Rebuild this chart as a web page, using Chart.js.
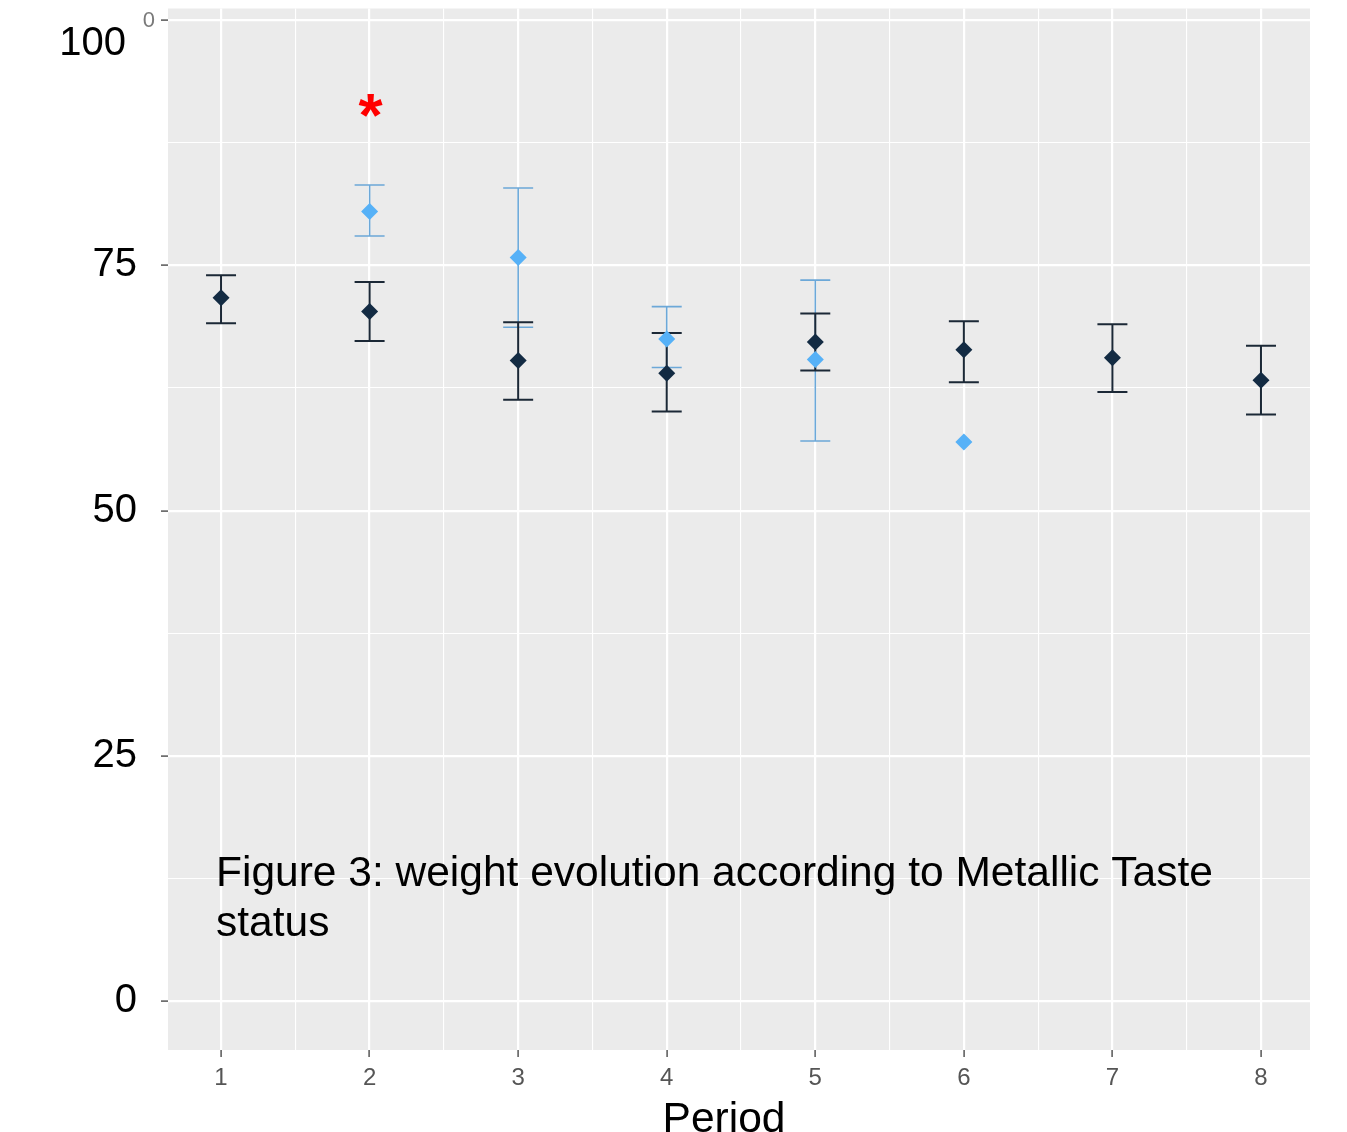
<!DOCTYPE html>
<html>
<head>
<meta charset="utf-8">
<script src="https://cdn.jsdelivr.net/npm/chart.js@4.4.1/dist/chart.umd.min.js"></script>
<style>
  html, body { margin: 0; padding: 0; background: #fff; }
</style>
</head>
<body>
<canvas id="weightChart" width="1347" height="1132"></canvas>
<script>
// weight per period, two groups (no metallic taste / metallic taste)
const periods = [1, 2, 3, 4, 5, 6, 7, 8];
const noTasteMean = [71.7, 70.3, 65.3, 64.0, 67.2, 66.4, 65.6, 63.3];
const noTasteLow  = [69.1, 67.3, 61.3, 60.1, 64.3, 63.1, 62.1, 59.8];
const noTasteHigh = [74.0, 73.3, 69.2, 68.1, 70.1, 69.3, 69.0, 66.8];

const tastePeriods = [2, 3, 4, 5, 6];
const tasteMean = [80.5, 75.8, 67.5, 65.4, 57.0];
const tasteLow  = [78.0, 68.7, 64.6, 57.1, null];
const tasteHigh = [83.2, 82.9, 70.8, 73.5, null];

const starPeriods = [2];
const starValues = [90.9];

const yTickValues = [0, 25, 50, 75, 100];
const caption = ['Figure 3: weight evolution according to Metallic Taste', 'status'];
const xTitle = 'Period';

const FONT = '"Liberation Sans", Arial, Helvetica, sans-serif';
const DARK = '#132B43';
const LIGHT = '#56B1F7';

const series = [
    { xs: tastePeriods, mean: tasteMean, lo: tasteLow, hi: tasteHigh, color: LIGHT, bar: '#6CA8D8', width: 1.6 },
    { xs: periods, mean: noTasteMean, lo: noTasteLow, hi: noTasteHigh, color: DARK, bar: '#1B2836', width: 2 },
];

// grey ggplot-like panel
const panelBg = {
    id: 'panelBg',
    beforeDraw(chart) {
        const { ctx, chartArea: a } = chart;
        ctx.save();
        ctx.fillStyle = '#EBEBEB';
        ctx.fillRect(a.left, a.top, a.right - a.left, a.bottom - a.top);
        ctx.restore();
    }
};

// error bars with caps
const errorBars = {
    id: 'errorBars',
    beforeDatasetsDraw(chart) {
        const { ctx } = chart;
        const xs = chart.scales.x, ys = chart.scales.y;
        ctx.save();
        series.forEach(s => {
            ctx.strokeStyle = s.bar;
            ctx.lineWidth = s.width;
            s.xs.forEach((p, i) => {
                if (s.lo[i] == null) return;
                const x = xs.getPixelForValue(p);
                const yl = ys.getPixelForValue(s.lo[i]);
                const yh = ys.getPixelForValue(s.hi[i]);
                ctx.beginPath();
                ctx.moveTo(x, yh); ctx.lineTo(x, yl);
                ctx.moveTo(x - 15, yh); ctx.lineTo(x + 15, yh);
                ctx.moveTo(x - 15, yl); ctx.lineTo(x + 15, yl);
                ctx.stroke();
            });
        });
        ctx.restore();
    }
};

// asterisk, caption and axis title
const overlay = {
    id: 'overlay',
    afterDraw(chart) {
        const { ctx } = chart;
        const xs = chart.scales.x, ys = chart.scales.y;
        ctx.save();
        ctx.fillStyle = '#FF0000';
        ctx.font = 'bold 62px ' + FONT;
        ctx.textAlign = 'center';
        ctx.textBaseline = 'alphabetic';
        starPeriods.forEach((p, i) => {
            ctx.fillText('*', xs.getPixelForValue(p) + 1, ys.getPixelForValue(starValues[i]) + 26);
        });

        ctx.fillStyle = '#000';
        ctx.font = '42.5px ' + FONT;
        ctx.textAlign = 'left';
        caption.forEach((line, i) => ctx.fillText(line, 216, 886 + i * 50));

        ctx.textAlign = 'center';
        ctx.fillText(xTitle, 724, 1132);

        // leftover small label of the original axis
        ctx.fillStyle = '#7a7a7a';
        ctx.font = '22px ' + FONT;
        ctx.textAlign = 'right';
        ctx.textBaseline = 'middle';
        ctx.fillText('0', 155, ys.getPixelForValue(100) + 1);
        ctx.restore();
    }
};

const ctx = document.getElementById('weightChart').getContext('2d');
new Chart(ctx, {
    type: 'scatter',
    data: {
        datasets: series.map(s => ({
            data: s.xs.map((p, i) => ({ x: p, y: s.mean[i] })),
            backgroundColor: s.color,
            borderWidth: 0,
            pointStyle: 'rectRot',
            pointRadius: 8.5,
            pointHoverRadius: 8.5,
        })),
    },
    options: {
        responsive: false,
        animation: false,
        layout: { padding: { top: 7, right: 37, left: 0, bottom: 0 } },
        plugins: { legend: { display: false }, tooltip: { enabled: false } },
        scales: {
            x: {
                type: 'linear',
                min: 0.643,
                max: 8.33,
                afterBuildTicks: s => {
                    s.ticks = periods.flatMap(p => p < 8 ? [{ value: p }, { value: p + 0.5 }] : [{ value: p }]);
                },
                afterFit: s => { s.height = 82; s.paddingLeft = 0; s.paddingRight = 0; },
                border: { display: false },
                grid: {
                    color: '#FFFFFF',
                    lineWidth: c => Number.isInteger(c.tick.value) ? 2.2 : 1.1,
                    tickColor: c => Number.isInteger(c.tick.value) ? '#555555' : 'rgba(0,0,0,0)',
                    tickWidth: 1.5,
                    tickLength: 7,
                },
                ticks: {
                    autoSkip: false,
                    maxRotation: 0,
                    padding: 7,
                    color: '#555555',
                    font: { family: FONT, size: 24 },
                    callback: v => Number.isInteger(v) ? String(v) : '',
                },
            },
            y: {
                type: 'linear',
                min: -5.0,
                max: 101.2,
                afterBuildTicks: s => {
                    s.ticks = yTickValues.flatMap(v => v < 100 ? [{ value: v }, { value: v + 12.5 }] : [{ value: v }]);
                },
                afterFit: s => { s.width = 168; s.paddingTop = 0; s.paddingBottom = 0; },
                border: { display: false },
                grid: {
                    color: '#FFFFFF',
                    lineWidth: c => c.tick.value % 25 === 0 ? 2.2 : 1.1,
                    tickColor: c => c.tick.value % 25 === 0 ? '#555555' : 'rgba(0,0,0,0)',
                    tickWidth: 1.5,
                    tickLength: 7,
                },
                ticks: {
                    padding: 24,
                    color: '#000000',
                    font: { family: FONT, size: 40 },
                    callback: v => v === 100 ? ['', '100 '] : (v % 25 === 0 ? String(v) : ''),
                },
            },
        },
    },
    plugins: [panelBg, errorBars, overlay],
});
</script>
</body>
</html>
